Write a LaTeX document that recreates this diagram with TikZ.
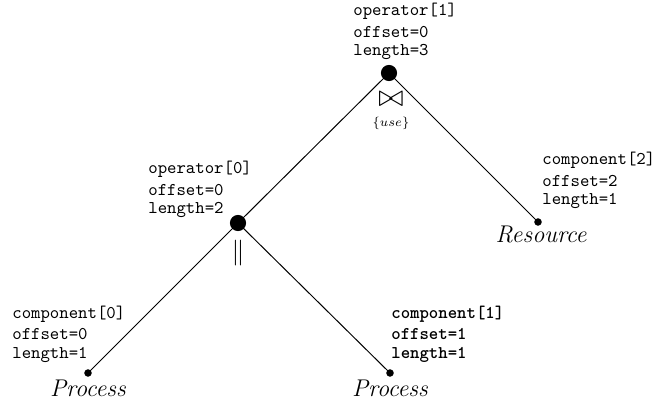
\documentclass[tikz,border=0pt]{standalone}
\usepackage{amssymb}
\begin{document}
\begin{tikzpicture}[x=0.558pt,y=-0.558pt,
  bigdot/.style={circle, fill=black, inner sep=0pt, minimum size=9pt},
  smalldot/.style={circle, fill=black, inner sep=0pt, minimum size=4.2pt},
  lbl/.style={anchor=base west, inner sep=0pt, font=\ttfamily\fontsize{10}{12}\selectfont},
  blbl/.style={lbl, font=\ttfamily\bfseries\fontsize{10}{12}\selectfont},
  leaf/.style={anchor=base, inner sep=0pt, font=\itshape\fontsize{13.5}{15}\selectfont},
  edge/.style={line width=0.55pt}]
\useasboundingbox (0,0) rectangle (658,403);
% dots
\node[bigdot] (r) at (389,73) {};
\node[bigdot] (o0) at (238,223) {};
\node[smalldot] (c0) at (88,373) {};
\node[smalldot] (c1) at (390,373) {};
\node[smalldot] (c2) at (538,222) {};
% edges
\draw[edge] (r.center) -- (o0.center);
\draw[edge] (r.center) -- (c2.center);
\draw[edge] (o0.center) -- (c1.center);
\draw[edge] (o0.center) -- (c0.center);
% root labels
\node[lbl] (r1) at (353,16) {operator[1]};
\node[lbl] (r2) at (353,38) {offset=0};
\node[lbl] (r3) at (353,56) {length=3};
\node[anchor=north, inner sep=0pt, align=center, font=\fontsize{7.5}{9}\selectfont] (bt) at (391,92)
  {{\fontsize{17.28}{18}\selectfont$\bowtie$}\\[2pt]$\{use\}$};
% operator[0]
\node[lbl] (a1) at (148,174) {operator[0]};
\node[lbl] (a2) at (148,196) {offset=0};
\node[lbl] (a3) at (148,214) {length=2};
\node[inner sep=0pt, font=\fontsize{14.4}{16}\selectfont] (par) at (238,253) {$\|$};
% component[0]
\node[lbl] (b1) at (12,318) {component[0]};
\node[lbl] (b2) at (12,340) {offset=0};
\node[lbl] (b3) at (12,358) {length=1};
\node[leaf] (p0) at (88,396) {Process};
% component[1]
\node[blbl] (d1) at (391,318) {component[1]};
\node[blbl] (d2) at (391,340) {offset=1};
\node[blbl] (d3) at (391,358) {length=1};
\node[leaf] (p1) at (390,396) {Process};
% component[2]
\node[lbl] (e1) at (542,165) {component[2]};
\node[lbl] (e2) at (542,187) {offset=2};
\node[lbl] (e3) at (542,205) {length=1};
\node[leaf] (res) at (541,243) {Resource};
\end{tikzpicture}
\end{document}
